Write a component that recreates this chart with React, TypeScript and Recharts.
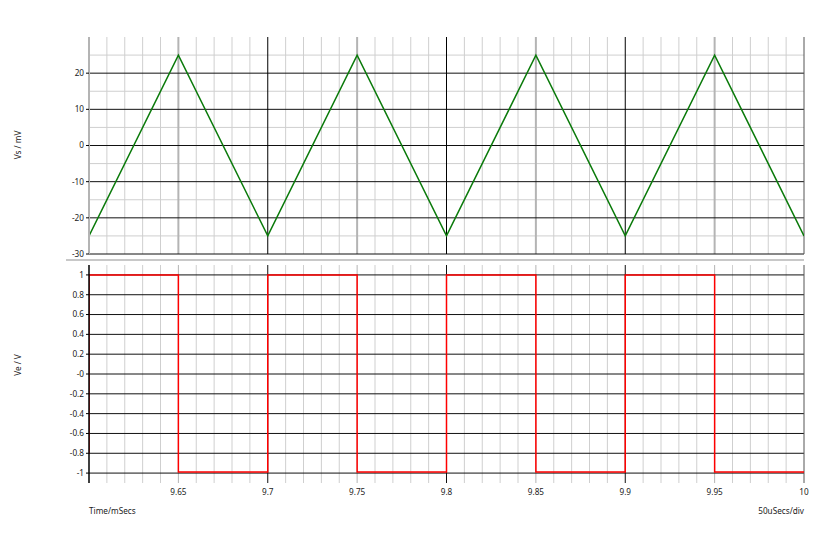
import React from 'react';
import { LineChart, Line, XAxis, YAxis, ReferenceLine } from 'recharts';

// time axis (ms) and the two traces
const timeMs = [9.6, 9.65, 9.7, 9.75, 9.8, 9.85, 9.9, 9.95, 10];
const vsMilliVolts = [-25, 25, -25, 25, -25, 25, -25, 25, -25];

const veTimeMs = [9.6, 9.6, 9.65, 9.7, 9.75, 9.8, 9.85, 9.9, 9.95, 10];
const veVolts = [-0.8, 1, -0.99, 1, -0.99, 1, -0.99, 1, -0.99, -0.99];

const timeTicks = [9.65, 9.7, 9.75, 9.8, 9.85, 9.9, 9.95, 10];
const timeTickLabels = ['9.65', '9.7', '9.75', '9.8', '9.85', '9.9', '9.95', '10'];

const vsTicks = [-30, -20, -10, 0, 10, 20];
const vsMinorLines = [-25, -15, -5, 5, 15, 25];

const veTicks = [-1, -0.8, -0.6, -0.4, -0.2, 0, 0.2, 0.4, 0.6, 0.8, 1];
const veTickLabels = ['-1', '-0.8', '-0.6', '-0.4', '-0.2', '-0', '0.2', '0.4', '0.6', '0.8', '1'];

const timeMajorLines = [9.7, 9.8, 9.9];
const timeHalfLines = [9.65, 9.75, 9.85, 9.95];

// 10 us minor divisions between the labelled ticks
const timeMinorLines: number[] = [];
for (let i = 1; i < 40; i++) {
  if (i % 5 !== 0) timeMinorLines.push(Math.round((9.6 + i * 0.01) * 1000) / 1000);
}

const vsData = timeMs.map((t, i) => ({ t, vs: vsMilliVolts[i] }));
const veData = veTimeMs.map((t, i) => ({ t, ve: veVolts[i] }));

const FONT = '"Noto Sans", "DejaVu Sans", sans-serif';
const FS = 8.2;
const tickStyle = { fontSize: FS, fill: '#222', fontFamily: FONT };

const sideLabel = (top: number): React.CSSProperties => ({
  position: 'absolute',
  left: 17,
  top,
  transform: 'translate(-50%, -50%) rotate(-90deg)',
  fontSize: FS,
  fontFamily: FONT,
  color: '#222',
  whiteSpace: 'nowrap',
});

export default function App() {
  return (
    <div style={{ position: 'fixed', left: 0, top: 0, width: 840, height: 541, background: '#fff' }}>
      <div style={{ position: 'absolute', left: 0, top: 0 }}>
        <LineChart width={840} height={260} data={vsData} margin={{ top: 37, right: 36, bottom: 6, left: 0 }}>
          <XAxis type="number" dataKey="t" domain={[9.6, 10]} hide allowDataOverflow />
          <YAxis
            type="number"
            domain={[-30, 30]}
            ticks={vsTicks}
            interval={0}
            width={89}
            tickSize={3}
            tickMargin={2}
            axisLine={{ stroke: '#b4b4b4', strokeWidth: 2 }}
            tickLine={{ stroke: '#000' }}
            tick={tickStyle}
            allowDataOverflow
          />
          {timeMinorLines.map((v) => (
            <ReferenceLine key={`tm${v}`} x={v} stroke="#cfcfcf" />
          ))}
          {vsMinorLines.map((v) => (
            <ReferenceLine key={`vm${v}`} y={v} stroke="#cfcfcf" />
          ))}
          {timeHalfLines.map((v) => (
            <ReferenceLine key={`th${v}`} x={v} stroke="#b4b4b4" strokeWidth={2} />
          ))}
          {vsTicks.map((v) => (
            <ReferenceLine key={`vM${v}`} y={v} stroke="#111" />
          ))}
          {timeMajorLines.map((v) => (
            <ReferenceLine key={`tM${v}`} x={v} stroke="#000" />
          ))}
          <ReferenceLine x={10} stroke="#555" />
          <Line type="linear" dataKey="vs" stroke="#0a7a0a" strokeWidth={1.5} dot={false} isAnimationActive={false} />
        </LineChart>
      </div>

      <div style={{ position: 'absolute', left: 66, top: 259, width: 738, height: 2, background: '#c8c8c8' }} />

      <div style={{ position: 'absolute', left: 0, top: 260 }}>
        <LineChart width={840} height={281} data={veData} margin={{ top: 5, right: 36, bottom: 34, left: 0 }}>
          <XAxis
            type="number"
            dataKey="t"
            domain={[9.6, 10]}
            ticks={timeTicks}
            interval={0}
            height={24}
            axisLine={false}
            tickLine={false}
            tickSize={0}
            tickMargin={6}
            tick={tickStyle}
            tickFormatter={(v: number) => timeTickLabels[timeTicks.indexOf(v)] ?? String(v)}
            allowDataOverflow
          />
          <YAxis
            type="number"
            domain={[-1.1, 1.1]}
            ticks={veTicks}
            interval={0}
            width={89}
            tickSize={3}
            tickMargin={2}
            axisLine={{ stroke: '#000', strokeWidth: 1.5 }}
            tickLine={{ stroke: '#000' }}
            tick={tickStyle}
            tickFormatter={(v: number) => veTickLabels[veTicks.indexOf(v)] ?? String(v)}
            allowDataOverflow
          />
          {timeMinorLines.map((v) => (
            <ReferenceLine key={`bm${v}`} x={v} stroke="#cfcfcf" />
          ))}
          {timeHalfLines.map((v) => (
            <ReferenceLine key={`bh${v}`} x={v} stroke="#b4b4b4" />
          ))}
          {timeMajorLines.map((v) => (
            <ReferenceLine key={`bM${v}`} x={v} stroke="#111" />
          ))}
          {veTicks.map((v) => (
            <ReferenceLine key={`bg${v}`} y={v} stroke="#111" />
          ))}
          <ReferenceLine x={10} stroke="#555" />
          <Line type="stepAfter" dataKey="ve" stroke="#ff0000" strokeWidth={1.5} dot={false} isAnimationActive={false} />
        </LineChart>
      </div>

      <div style={sideLabel(145)}>Vs / mV</div>
      <div style={sideLabel(365)}>Ve / V</div>
      <div style={{ position: 'absolute', left: 89, top: 505, fontSize: FS, fontFamily: FONT, color: '#222' }}>Time/mSecs</div>
      <div style={{ position: 'absolute', right: 36, top: 505, fontSize: FS, fontFamily: FONT, color: '#222' }}>50uSecs/div</div>
    </div>
  );
}
